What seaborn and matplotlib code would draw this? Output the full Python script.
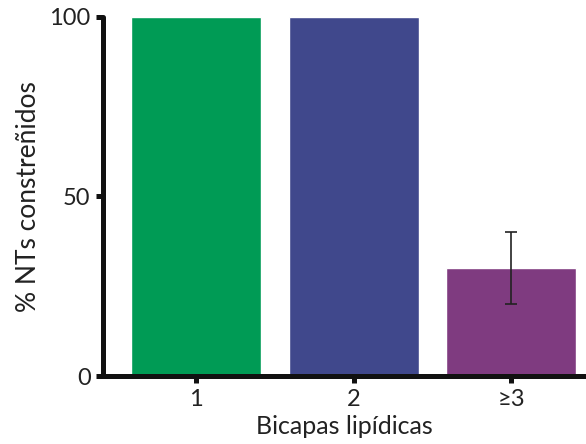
import matplotlib
matplotlib.use("Agg")
import matplotlib.pyplot as plt
import seaborn as sns
import pandas as pd

# --- data ---
categories = ["1", "2", "\u22653"]
percent_constricted = [100, 100, 30]
error = [0, 0, 10]
bar_colors = ["#009B55", "#40488C", "#7F3B80"]

sns.set_theme(style="ticks")
plt.rcParams["font.family"] = ["Lato", "DejaVu Sans"]

df = pd.DataFrame({"Bicapas": categories, "pct": percent_constricted, "err": error})

fig = plt.figure(figsize=(5.86, 4.44), dpi=100)
ax = fig.add_axes([0.176, 0.153, 0.824, 0.809])

sns.barplot(data=df, x="Bicapas", y="pct", hue="Bicapas", palette=bar_colors,
            width=0.825, legend=False, errorbar=None, saturation=1, ax=ax)

# error bar only where there is one
for i, (v, e) in enumerate(zip(percent_constricted, error)):
    if e > 0:
        ax.errorbar(i, v, yerr=e, fmt="none", ecolor="#222222", elinewidth=1.2,
                    capsize=4, capthick=1.2)

ax.set_xlim(-0.59, 2.476)
ax.set_ylim(0, 100)
ax.set_yticks([0, 50, 100])
ax.set_ylabel("% NTs constreñidos", fontsize=19, color="#222222", labelpad=6)
ax.set_xlabel("Bicapas lipídicas", fontsize=18, color="#222222", labelpad=4)

sns.despine(ax=ax, top=True, right=True)
for side in ["left", "bottom"]:
    ax.spines[side].set_linewidth(3.6)
    ax.spines[side].set_color("#111111")
    ax.spines[side].set_capstyle("round")
ax.tick_params(axis="both", width=3.6, length=5, color="#111111",
               labelsize=17, labelcolor="#222222", pad=4)
for t in ax.xaxis.get_ticklines() + ax.yaxis.get_ticklines():
    t.set_solid_capstyle("round")

fig.savefig("out.png", dpi=100)
